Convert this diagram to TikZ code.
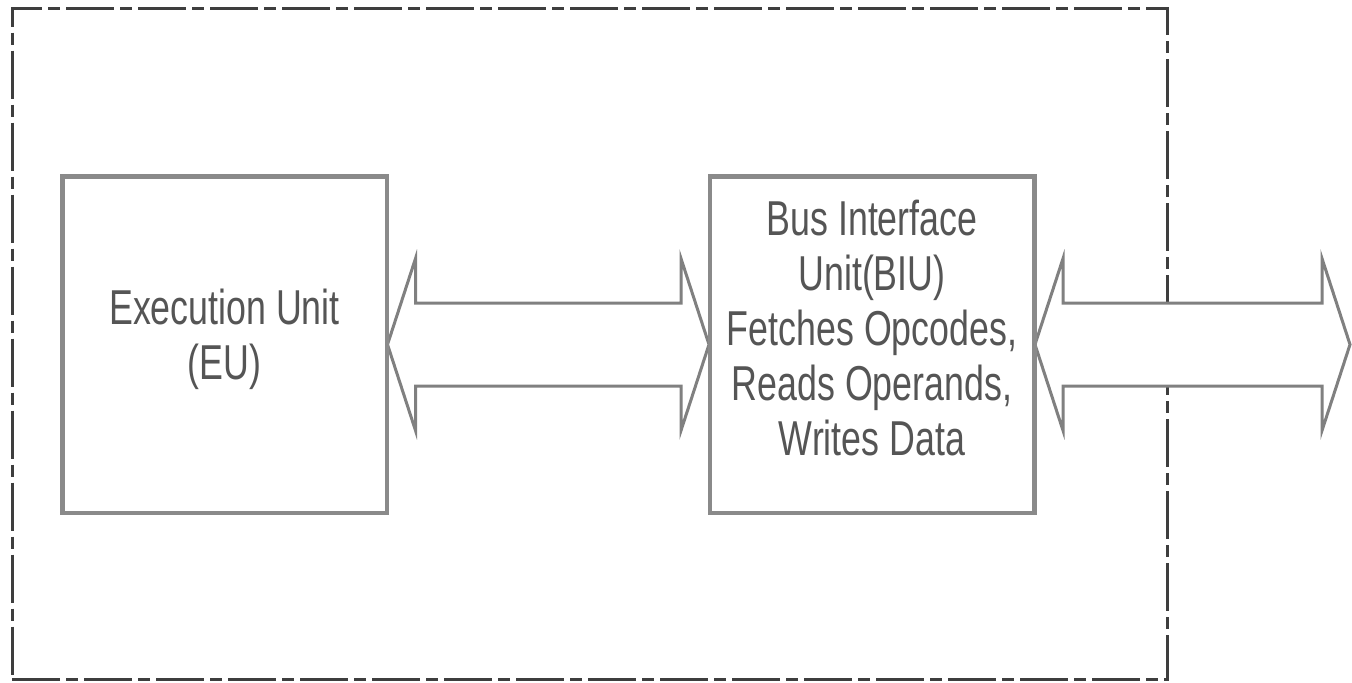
\documentclass[tikz,border=0pt]{standalone}
\usepackage{fontspec}
\usetikzlibrary{calc}
\newfontfamily\unitfont[FakeStretch=0.73]{Liberation Sans}
\definecolor{framegray}{HTML}{3E3E3E}
\definecolor{boxgray}{HTML}{8A8A8A}
\definecolor{busgray}{HTML}{808080}
\definecolor{textgray}{HTML}{555555}
\tikzset{
  cpuframe/.style={draw=framegray, line width=1.5pt,
    dash pattern=on 24pt off 3pt on 6pt off 3pt, rectangle, inner sep=0pt},
  unitbox/.style={draw=boxgray, line width=1.5pt, fill=white, rectangle,
    minimum width=161.5pt, minimum height=167.5pt, inner sep=0pt},
  unittext/.style={text=textgray, align=center, inner sep=0pt,
    font=\unitfont\fontsize{24.5}{27.5}\selectfont},
  bus/.style={draw=busgray, line width=1.5pt, fill=white, line join=miter}
}
% double-headed hollow bus arrow between two points on the same height
\newcommand\busarrow[2]{%
  \draw[bus] let \p1=(#1), \p2=(#2) in
    (\x1,\y1) -- (\x1+14pt,\y1+43pt) -- (\x1+14pt,\y1+20.75pt)
    -- (\x2-14pt,\y1+20.75pt) -- (\x2-14pt,\y1+43pt) -- (\x2,\y2)
    -- (\x2-14pt,\y1-43pt) -- (\x2-14pt,\y1-20.75pt)
    -- (\x1+14pt,\y1-20.75pt) -- (\x1+14pt,\y1-43pt) -- cycle;}
\begin{document}
\begin{tikzpicture}[x=0.5pt,y=-0.5pt]
  \useasboundingbox (0,0) rectangle (1352,682);
  \fill[white] (0,0) rectangle (1352,682);

  % processor boundary
  \node[cpuframe, minimum width=577.5pt, minimum height=335.75pt]
    (cpu) at (589.75,343.75) {};

  % functional units
  \node[unitbox] (eu) at (224.5,344.5) {};
  \node[unitbox] (biu) at (872,344.5) {};
  \coordinate (sysbus) at (1350,344.5);

  % buses
  \busarrow{eu.east}{biu.west}
  \busarrow{biu.east}{sysbus}

  % redraw unit outlines over the arrow tips
  \draw[draw=boxgray, line width=1.5pt] (eu.north west) rectangle (eu.south east);
  \draw[draw=boxgray, line width=1.5pt] (biu.north west) rectangle (biu.south east);

  % labels
  \node[unittext] (eutext) at ([yshift=2.5pt]eu.center) {Execution Unit\\(EU)};
  \node[unittext] (biutext) at ([yshift=8.5pt]biu.center)
    {Bus Interface\\Unit(BIU)\\Fetches Opcodes,\\Reads Operands,\\Writes Data};
\end{tikzpicture}
\end{document}
